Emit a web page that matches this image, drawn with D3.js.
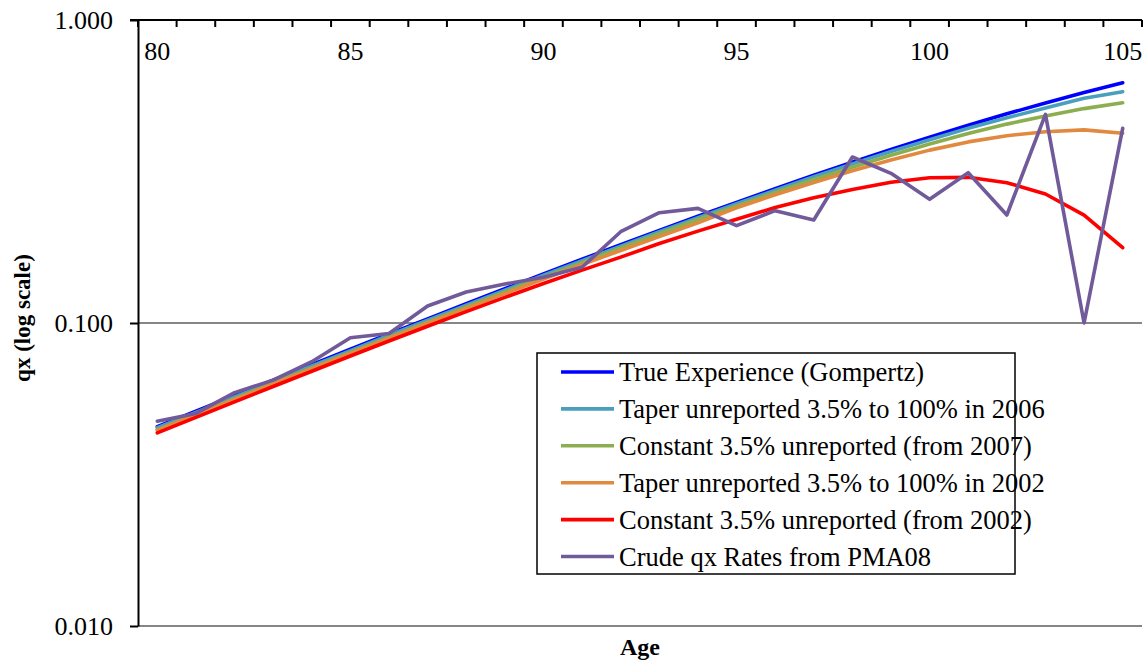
<!DOCTYPE html>
<html>
<head>
<meta charset="utf-8">
<script src="https://cdn.jsdelivr.net/npm/d3@7/dist/d3.min.js"></script>
<style>
  html, body { margin: 0; padding: 0; background: #fff; }
  svg { display: block; }
</style>
</head>
<body>
<svg id="chart" width="1148" height="661"></svg>
<script>
// Ages on the category axis
const ages = d3.range(80, 106);
const ageLabels = [80, 85, 90, 95, 100, 105];
const yTicks = [0.01, 0.1, 1];

// Mortality rates qx by age for each scenario
const trueGompertz = [0.0455, 0.0512, 0.0576, 0.0648, 0.0729, 0.0819, 0.0920, 0.1032, 0.1158, 0.1297,
  0.1452, 0.1623, 0.1813, 0.2021, 0.2251, 0.2501, 0.2775, 0.3072, 0.3393, 0.3737,
  0.4104, 0.4493, 0.4901, 0.5326, 0.5763, 0.6208];
const taper2006 = [0.0451, 0.0507, 0.0570, 0.0641, 0.0722, 0.0811, 0.0911, 0.1022, 0.1146, 0.1284,
  0.1437, 0.1606, 0.1794, 0.2000, 0.2227, 0.2474, 0.2744, 0.3037, 0.3352, 0.3681,
  0.4026, 0.4390, 0.4754, 0.5124, 0.5520, 0.5800];
const const2007 = [0.0444, 0.0499, 0.0562, 0.0632, 0.0711, 0.0799, 0.0897, 0.1006, 0.1129, 0.1265,
  0.1416, 0.1582, 0.1768, 0.1970, 0.2195, 0.2436, 0.2697, 0.2974, 0.3268, 0.3576,
  0.3899, 0.4223, 0.4533, 0.4820, 0.5100, 0.5330];
const taper2002 = [0.0443, 0.0498, 0.0560, 0.0629, 0.0707, 0.0794, 0.0891, 0.0998, 0.1118, 0.1250,
  0.1397, 0.1558, 0.1735, 0.1928, 0.2140, 0.2400, 0.2650, 0.2910, 0.3180, 0.3450,
  0.3720, 0.3960, 0.4150, 0.4280, 0.4340, 0.4230];
const const2002 = [0.0434, 0.0488, 0.0549, 0.0617, 0.0693, 0.0778, 0.0872, 0.0976, 0.1090, 0.1215,
  0.1350, 0.1495, 0.1650, 0.1830, 0.2010, 0.2200, 0.2405, 0.2590, 0.2760, 0.2915,
  0.3015, 0.3025, 0.2905, 0.2665, 0.2270, 0.1772];
const crudePMA08 = [0.0474, 0.0503, 0.0589, 0.0648, 0.0745, 0.0894, 0.0923, 0.1138, 0.1265, 0.1345,
  0.1415, 0.1527, 0.2001, 0.2312, 0.2390, 0.2096, 0.2348, 0.2188, 0.3531, 0.3119,
  0.2560, 0.3133, 0.2272, 0.4883, 0.1000, 0.4390];

const seriesNames = [
  "True Experience (Gompertz)",
  "Taper unreported 3.5% to 100% in 2006",
  "Constant 3.5% unreported (from 2007)",
  "Taper unreported 3.5% to 100% in 2002",
  "Constant 3.5% unreported (from 2002)",
  "Crude qx Rates from PMA08"
];
const seriesValues = [trueGompertz, taper2006, const2007, taper2002, const2002, crudePMA08];
const seriesColors = ["#0000FF", "#4A9FBD", "#8CAE50", "#E0893F", "#FF0000", "#705A9A"];

const FONT = "'Liberation Serif', 'Times New Roman', Times, serif";

const svg = d3.select("#chart");
const plot = { left: 138, right: 1142, top: 20, bottom: 626 };

const x = d3.scaleBand().domain(ages).range([plot.left, plot.right]).padding(0);
const xc = a => x(a) + x.bandwidth() / 2;
const y = d3.scaleLog().domain([0.01, 1]).range([plot.bottom, plot.top]);

// Horizontal gridlines
svg.append("g").selectAll("line")
  .data(yTicks.filter(v => v < 1))
  .join("line")
  .attr("x1", plot.left).attr("x2", plot.right)
  .attr("y1", d => y(d)).attr("y2", d => y(d))
  .attr("stroke", "#868686").attr("stroke-width", 2);

// Y axis
const yAxis = d3.axisLeft(y).tickValues(yTicks).tickFormat(d3.format(".3f"))
  .tickSizeInner(8).tickSizeOuter(0).tickPadding(17);
const gy = svg.append("g").attr("transform", `translate(${plot.left},0)`).call(yAxis);
gy.select(".domain").attr("stroke", "#000").attr("stroke-width", 2);
gy.selectAll(".tick line").attr("stroke", "#000").attr("stroke-width", 2);
gy.selectAll(".tick text").attr("font-size", 26);

// Category axis along the top edge: labels inside, ticks between categories
const xAxis = d3.axisBottom(x).tickValues(ageLabels).tickSize(0).tickPadding(22);
const gx = svg.append("g").attr("transform", `translate(0,${plot.top})`).call(xAxis);
gx.select(".domain").remove();
gx.selectAll(".tick text").attr("font-size", 26);

const boundaries = ages.map(a => x(a)).concat([plot.right]);
svg.append("g").selectAll("line")
  .data(boundaries)
  .join("line")
  .attr("x1", d => d).attr("x2", d => d)
  .attr("y1", plot.top).attr("y2", plot.top + 7)
  .attr("stroke", "#000").attr("stroke-width", 2);
svg.append("line")
  .attr("x1", 130).attr("x2", plot.right)
  .attr("y1", plot.top).attr("y2", plot.top)
  .attr("stroke", "#000").attr("stroke-width", 2);

// Series lines
const line = d3.line().x((d, i) => xc(ages[i])).y(d => y(d));
svg.append("g").selectAll("path")
  .data(seriesValues)
  .join("path")
  .attr("d", d => line(d))
  .attr("fill", "none")
  .attr("stroke", (d, i) => seriesColors[i])
  .attr("stroke-width", 3.6)
  .attr("stroke-linejoin", "round")
  .attr("stroke-linecap", "round");

// Legend
const legend = svg.append("g");
legend.append("rect")
  .attr("x", 537).attr("y", 353).attr("width", 478).attr("height", 221)
  .attr("fill", "#fff").attr("stroke", "#000").attr("stroke-width", 1.5);
const rows = legend.selectAll("g.row")
  .data(seriesNames)
  .join("g")
  .attr("class", "row")
  .attr("transform", (d, i) => `translate(0,${372 + i * 36.9})`);
rows.append("line")
  .attr("x1", 561).attr("x2", 614)
  .attr("stroke", (d, i) => seriesColors[i])
  .attr("stroke-width", 3.6);
rows.append("text")
  .attr("x", 619).attr("y", 9)
  .attr("font-size", 26.5)
  .text(d => d);

// Axis titles
svg.append("text")
  .attr("x", 640).attr("y", 655)
  .attr("text-anchor", "middle")
  .attr("font-size", 24).attr("font-weight", "bold")
  .text("Age");
svg.append("text")
  .attr("transform", "translate(30,318) rotate(-90)")
  .attr("text-anchor", "middle")
  .attr("font-size", 23).attr("font-weight", "bold")
  .text("qx (log scale)");

// Serif face for every label
svg.selectAll("text").style("font-family", FONT).style("fill", "#000");
</script>
</body>
</html>
